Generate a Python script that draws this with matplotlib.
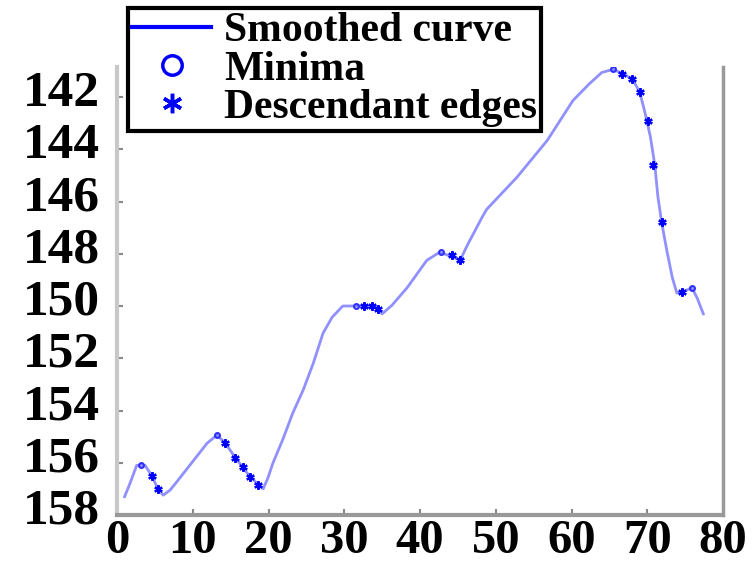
import numpy as np
import matplotlib.pyplot as plt
import matplotlib.transforms as mtransforms
from matplotlib.lines import Line2D

# --------------------
# data
# --------------------
curve_x = [1.0, 1.7, 2.6, 3.7, 4.6, 5.4, 6.1, 7.0, 7.7, 9.6, 11.9, 13.2, 14.3, 15.6,
           17.2, 18.5, 19.3, 19.9, 20.6, 21.9, 23.2, 24.6, 25.9, 27.2, 28.4, 29.8,
           32.0, 34.3, 35.0, 36.3, 38.3, 40.9, 42.6, 44.4, 45.3, 46.2, 48.2, 48.8,
           52.8, 56.8, 60.2, 62.4, 64.0, 65.5, 66.7, 68.0, 69.0, 69.7, 70.4, 71.0,
           71.4, 71.9, 72.6, 73.3, 73.9, 74.6, 75.9, 76.6, 77.4]
curve_y = [157.3, 156.8, 156.1, 156.1, 156.5, 157.0, 157.24, 157.05, 156.8, 156.1,
           155.25, 154.94, 155.25, 155.8, 156.4, 156.8, 157.0, 156.6, 156.0, 155.1,
           154.1, 153.2, 152.2, 151.04, 150.43, 150.0, 150.0, 150.05, 150.3, 149.97,
           149.3, 148.25, 147.94, 148.13, 148.25, 147.7, 146.6, 146.3, 145.07, 143.66,
           142.13, 141.48, 141.06, 140.94, 141.1, 141.3, 141.8, 142.6, 143.5, 144.6,
           145.8, 146.8, 147.9, 148.9, 149.5, 149.47, 149.3, 149.7, 150.3]

minima_x = [3.2, 13.2, 31.5, 42.8, 65.5, 75.9]
minima_y = [156.1, 154.94, 150.0, 147.94, 140.94, 149.3]

desc_x = [4.6, 5.4, 14.3, 15.6, 16.6, 17.6, 18.6, 32.6, 33.6, 34.5, 44.2, 45.3,
          66.7, 68.0, 69.0, 70.1, 70.8, 71.9, 74.6]
desc_y = [156.5, 157.0, 155.25, 155.8, 156.15, 156.55, 156.85, 150.0, 150.0, 150.1,
          148.05, 148.25, 141.1, 141.3, 141.8, 142.9, 144.6, 146.8, 149.47]

y_ticks = [142, 144, 146, 148, 150, 152, 154, 156, 158]
x_ticks = [0, 10, 20, 30, 40, 50, 60, 70, 80]

labels = ["Smoothed curve", "Minima", "Descendant edges"]

# --------------------
# figure
# --------------------
W, H = 754, 564
fig = plt.figure(figsize=(W / 100, H / 100), dpi=100)
ax = fig.add_axes([117 / W, 49 / H, 606 / W, 448 / H])

font = {'family': 'Liberation Serif', 'weight': 'bold'}

ax.plot(curve_x, curve_y, color='#9090ff', lw=2, zorder=2)
ax.plot(minima_x, minima_y, 'o', mfc='none', mec='#3030ff', ms=3.5, mew=1.5, zorder=3)
ax.plot(desc_x, desc_y, marker=(6, 2, 0), ls='none', mec='#0000ff', ms=6, mew=1.6, zorder=3)

ax.set_xlim(0, 80)
ax.set_ylim(158, 140.85)

ax.set_xticks(x_ticks)
ax.set_yticks(y_ticks)
ax.set_xticklabels([str(v) for v in x_ticks], fontdict=font, fontsize=35)
ax.set_yticklabels([str(v) for v in y_ticks], fontdict=font, fontsize=37)

ax.tick_params(axis='both', direction='in', length=4, width=1.5, colors='#888888',
               labelcolor='black')
ax.tick_params(axis='x', pad=3)
ax.tick_params(axis='y', pad=12)

# y labels sit a bit above their ticks in the reference
shift = mtransforms.ScaledTranslation(0, 9 / 100, fig.dpi_scale_trans)
for lab in ax.get_yticklabels():
    lab.set_transform(lab.get_transform() + shift)

ax.spines['top'].set_visible(False)
ax.spines['left'].set_color('#c8c8c8')
ax.spines['left'].set_linewidth(3)
ax.spines['bottom'].set_color('#999999')
ax.spines['bottom'].set_linewidth(3)
ax.spines['right'].set_color('#999999')
ax.spines['right'].set_linewidth(2.5)

# legend
handles = [
    Line2D([], [], color='#0000ff', lw=3),
    Line2D([], [], ls='none', marker='o', mfc='none', mec='#0000ff', ms=14, mew=2.5),
    Line2D([], [], ls='none', marker=(6, 2, 0), mec='#0000ff', ms=14, mew=2.5),
]
leg = fig.legend(handles, labels, loc='upper left',
                 bbox_to_anchor=(128 / W, 1 - 8 / H), borderaxespad=0,
                 prop={'family': 'Liberation Serif', 'weight': 'bold', 'size': 30},
                 fancybox=False, framealpha=1, edgecolor='black',
                 handlelength=1.9, handletextpad=0.3, labelspacing=0.0,
                 borderpad=0.1, numpoints=1)
leg.get_frame().set_linewidth(3)

plt.savefig("out.png", dpi=100)
